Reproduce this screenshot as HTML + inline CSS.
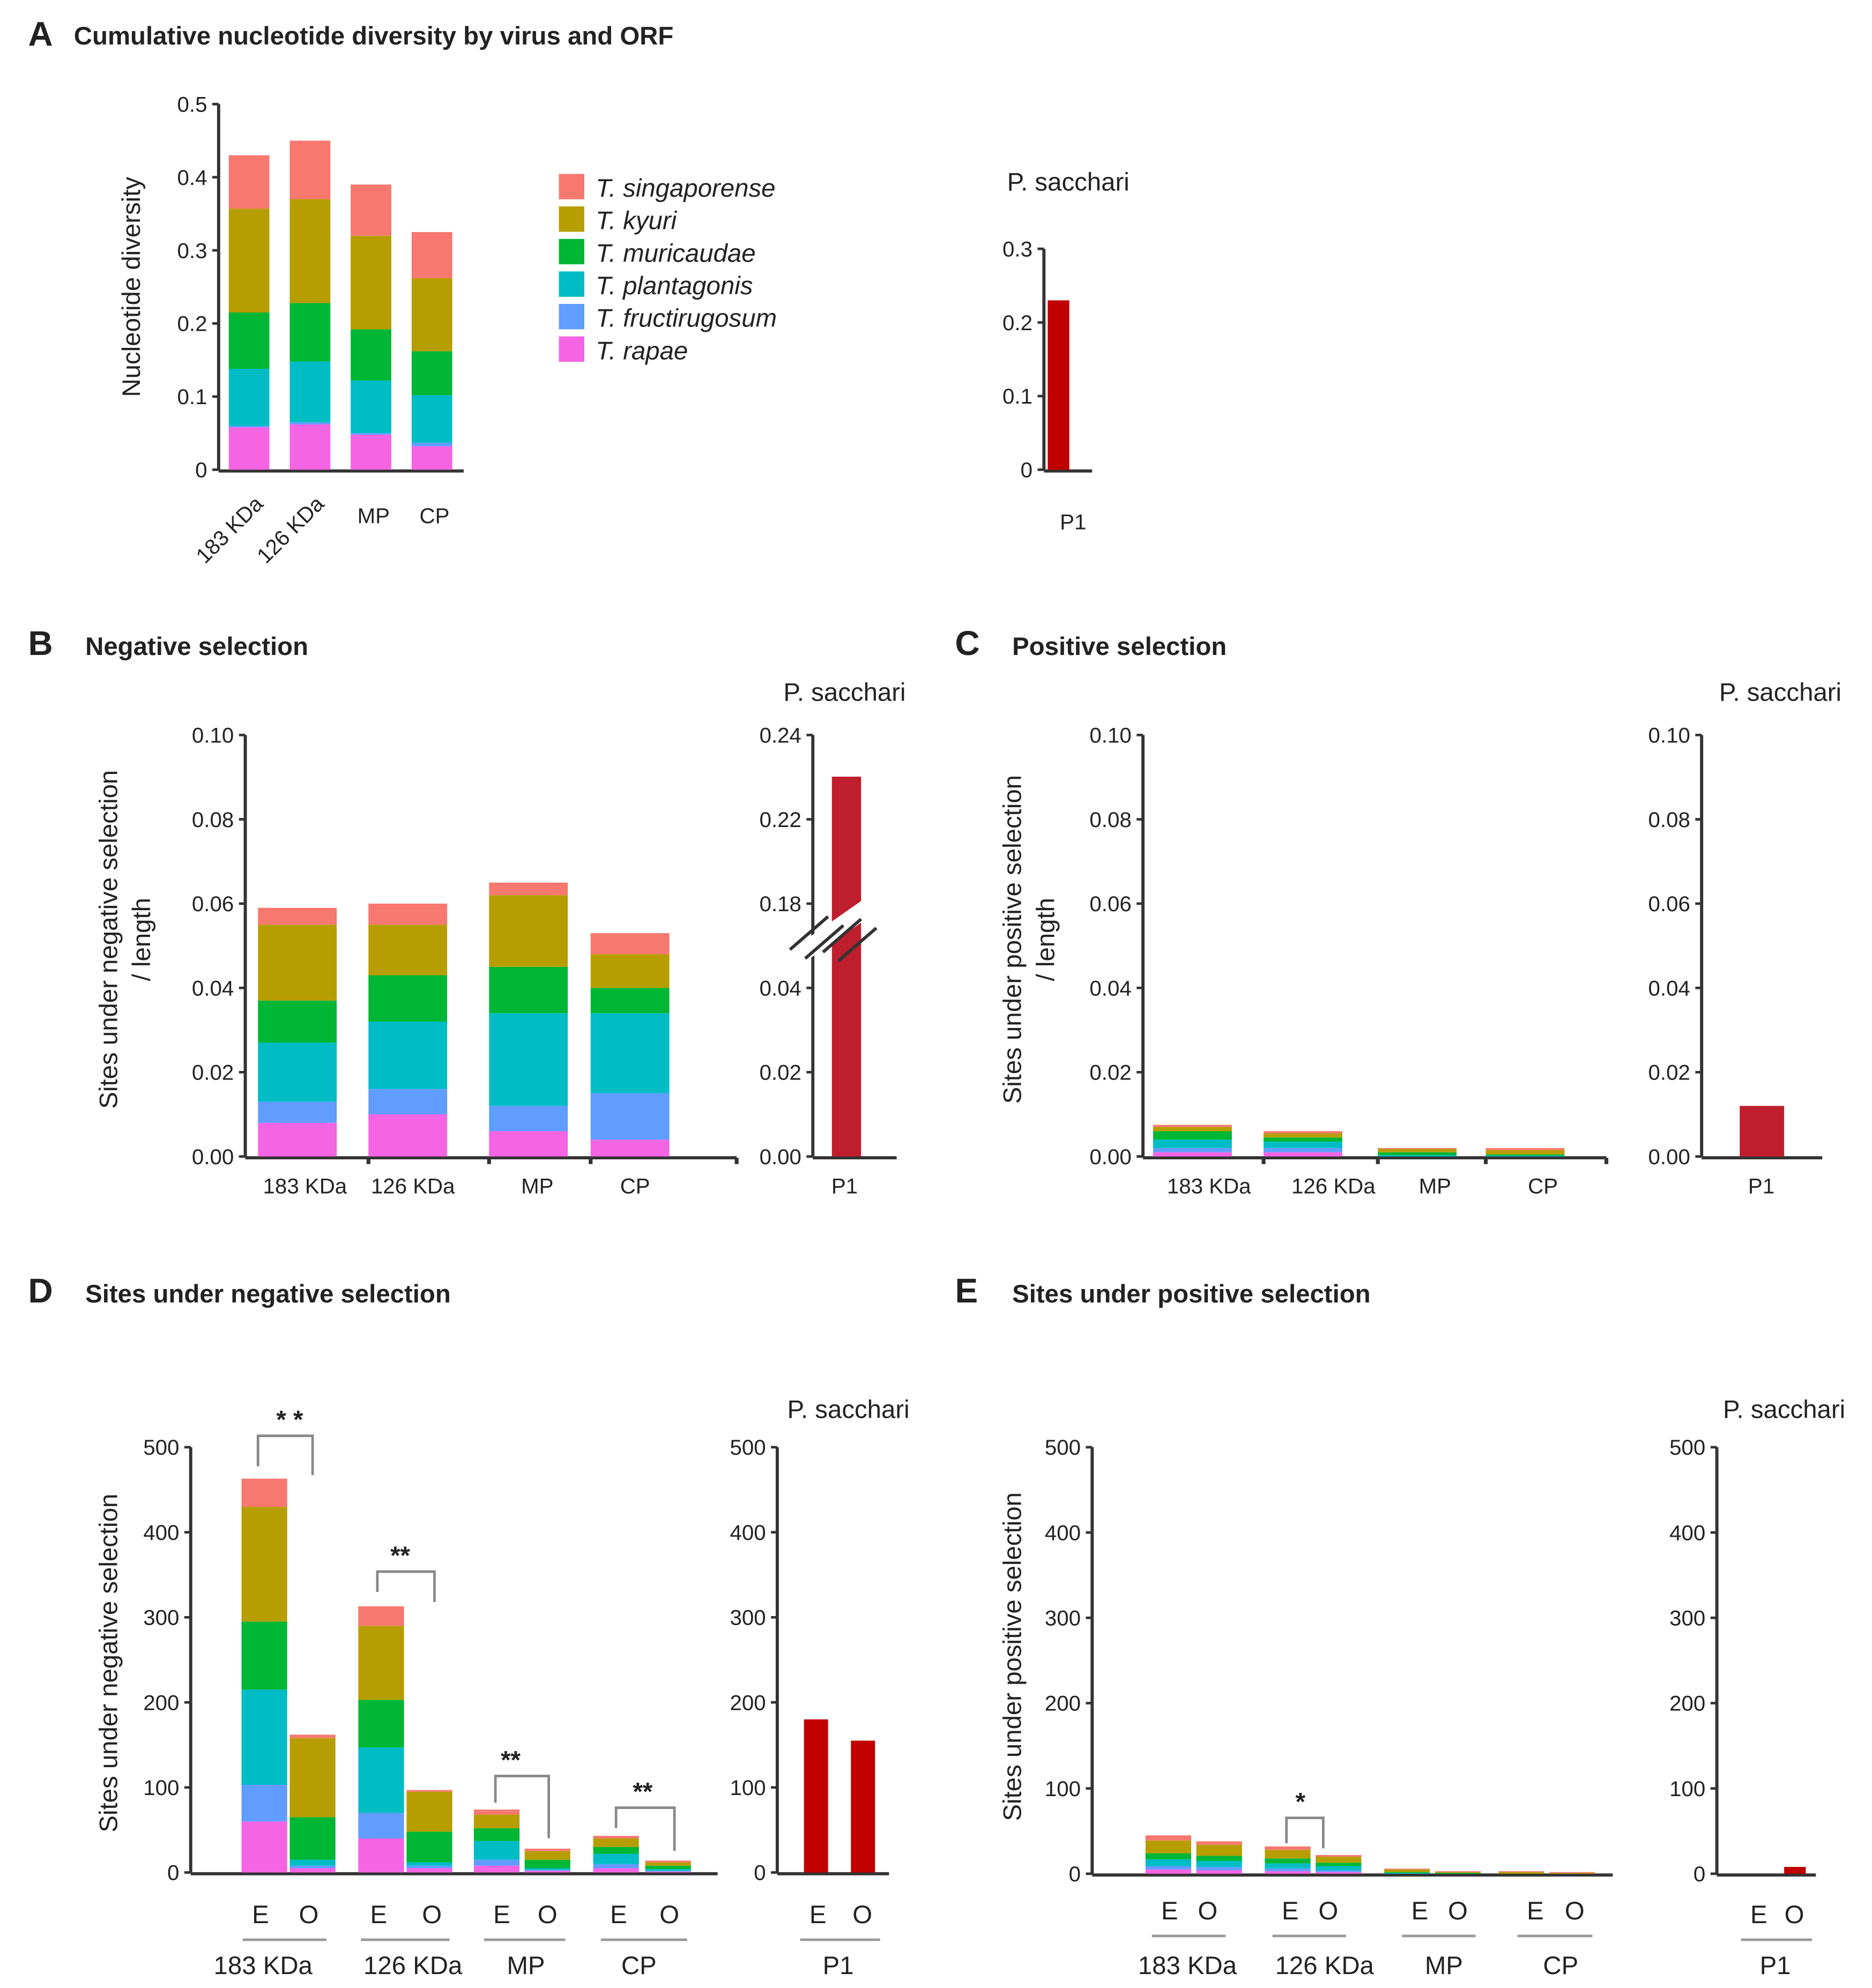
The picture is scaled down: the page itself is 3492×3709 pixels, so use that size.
<!DOCTYPE html>
<html><head><meta charset="utf-8"><style>
html,body{margin:0;padding:0;background:#fff}
svg{display:block}
text{font-family:"Liberation Sans",Arial,sans-serif;fill:#222}
</style></head><body>
<svg id="fig" xmlns="http://www.w3.org/2000/svg" width="3492" height="3709" viewBox="0 0 1474 1566"></svg>
<script>
// species order bottom->top
const species = ["T. rapae","T. fructirugosum","T. plantagonis","T. muricaudae","T. kyuri","T. singaporense"];
const colors = ["#f564e3","#619cff","#00bdc5","#00b635","#b79e00","#f7786f"];
const orfs = ["183 KDa","126 KDa","MP","CP"];
// Panel A segments
const aVals = [[.058,.002,.078,.077,.142,.073],[.062,.003,.083,.080,.142,.080],[.048,.002,.072,.070,.128,.070],[.032,.005,.065,.060,.100,.063]];
const aTicks = [0,0.1,0.2,0.3,0.4,0.5];
const aSacVal = [0.23];
const aSacTicks = [0,0.1,0.2,0.3];
// Panel B
const bVals = [[.008,.005,.014,.010,.018,.004],[.010,.006,.016,.011,.012,.005],[.006,.006,.022,.011,.017,.003],[.004,.011,.019,.006,.008,.005]];
const bcTicks = [0,0.02,0.04,0.06,0.08,0.10];
const bSacVal = [0.23];
const bSacTicks = ["0.00","0.02","0.04","0.18","0.22","0.24"];
// Panel C
const cVals = [[.001,.001,.002,.002,.001,.0005],[.001,.001,.0015,.001,.001,.0005],[0,0,.0003,.0007,.0008,.0002],[0,0,.0002,.0003,.001,.0005]];
const cSacVal = [0.012];
// Panel D (E then O per ORF)
const dVals = [[60,43,112,80,135,33],[5,3,7,50,93,4],[40,30,77,56,87,23],[5,3,4,36,47,2],[8,7,22,15,16,6],[2,1,2,10,10,3],[5,5,12,8,10,3],[1,1,2,4,4,2]];
const deTicks = [0,100,200,300,400,500];
const dSacVals = [180,155];
// Panel E
const eVals = [[5,4,8,7,15,6],[4,4,7,6,13,4],[3,3,6,6,10,4],[2,2,5,4,7,2],[0,0,1,1,3,1],[0,0,0,1,1,1],[0,0,0,0,2,1],[0,0,0,0,1,1]];
const eSacVals = [0,8];

const svg = document.getElementById('fig');
const NS = "http://www.w3.org/2000/svg";
function el(tag, attrs, parent){const e=document.createElementNS(NS,tag);for(const k in attrs)e.setAttribute(k,attrs[k]);(parent||svg).appendChild(e);return e;}
function txt(x,y,s,opts,name){const t=el('text',Object.assign({x:x,y:y,'font-size':17},opts||{}));t.textContent=s;return t;}
function lin(x1,y1,x2,y2,w,c){const l=el('line',{x1,y1,x2,y2,stroke:c||'#333','stroke-width':w||2.5});return l;}
function yAxis(x,y0,yTop,ticks,max,fmt,name){
  const g=el('g',{});
  lin(x,y0,x,yTop);
  ticks.forEach(v=>{const y=y0-(v/max)*(y0-yTop);lin(x-5,y,x,y,2);txt(x-9,y+6,fmt(v),{'text-anchor':'end'},'y-tick-label');});
  return v=>y0-(v/max)*(y0-yTop);
}
function stack(x,w,segs,sc,name){
  let cum=0;
  segs.forEach((v,i)=>{const yT=sc(cum+v),yB=sc(cum);cum+=v;if(yB-yT<=0)return;
    const r=el('rect',{x:x,y:yT,width:w,height:yB-yT,fill:colors[i]});
    
    });
}
function bar(x,w,v,sc,c,name){const r=el('rect',{x:x,y:sc(v),width:w,height:sc(0)-sc(v),fill:c});}
function title(x,y,letter,s){txt(x,y,letter,{'font-size':27,'font-weight':'bold'},'panel-letter');if(s)txt(x+45,y,s,{'font-size':20,'font-weight':'bold'},'panel-title');}
function yLabel(x,y,s){txt(x,y,s,{'font-size':20,'text-anchor':'middle',transform:`rotate(-90 ${x} ${y})`},'y-axis-title');}
const f1=v=>v===0?'0':v.toFixed(1), f2=v=>v.toFixed(2), f0=v=>String(v);

// ---------- A ----------
title(22,36,'A','');txt(58,35,'Cumulative nucleotide diversity by virus and ORF',{'font-size':20,'font-weight':'bold'},'panel-title');
let sA=yAxis(172,370,82,aTicks,0.5,f1,'a-y-axis');
lin(172,371,365,371);
yLabel(110,226,'Nucleotide diversity');
aVals.forEach((s,i)=>{const x=180+i*48;stack(x,32,s,sA,'a-bar-'+i);});
[[196,'183 KDa',1],[244,'126 KDa',1],[294,'MP',0],[342,'CP',0]].forEach(([x,s,r])=>{
  if(r)txt(x+12,398,s,{'text-anchor':'end',transform:`rotate(-45 ${x+12} 398)`},'x-tick-label');else txt(x,412,s,{'text-anchor':'middle'},'x-tick-label');});
species.slice().reverse().forEach((s,i)=>{const y=137+i*25.6;const r=el('rect',{x:440,y:y,width:20,height:20,fill:colors[5-i]});
  txt(469,y+18,s,{'font-size':20,'font-style':'italic'},'legend-entry');});
txt(793,150,'P. sacchari',{'font-size':20},'subplot-title');
let sAs=yAxis(822,370,196,aSacTicks,0.3,f1,'a-sac-y-axis');lin(822,371,860,371);
bar(825,17,aSacVal[0],sAs,'#c00000','a-sac-bar-p1');
txt(845,417,'P1',{'text-anchor':'middle'},'x-tick-label');

// ---------- B ----------
title(22,516,'B','Negative selection');
let sB=yAxis(193,911,579,bcTicks,0.10,f2,'b-y-axis');lin(193,912,580,912);
[290,385,465,580].forEach(x=>lin(x,912,x,917,3));
yLabel(92,740,'Sites under negative selection');yLabel(118,740,'/ length');
const bx=[203,290,385,465];
bVals.forEach((s,i)=>stack(bx[i],62,s,sB,'b-bar-'+i));
[240,325,423,500].forEach((x,i)=>txt(x,940,orfs[i],{'text-anchor':'middle'},'x-tick-label'));
txt(665,552,'P. sacchari',{'font-size':20,'text-anchor':'middle'},'subplot-title');
lin(640,911,640,579);
bSacTicks.forEach((s,i)=>{const y=911-i*66.4;lin(635,y,640,y,2);txt(631,y+6,s,{'text-anchor':'end'},'y-tick-label');});
lin(640,912,706,912);
const sBs=v=>v<=0.04?911-(v/0.02)*66.4:645-((v-0.22)/0.02)*66.4;
bar(655,23,bSacVal[0],sBs,'#be1e2d','b-sac-bar-p1');
const br=el('g',{});
el('rect',{x:620,y:726,width:75,height:14,fill:'#fff',transform:'rotate(-35 657 733)'},br);
[[622,748,652,722],[634,755,664,729],[648,750,678,724],[660,757,690,731]].forEach(a=>el('line',{x1:a[0],y1:a[1],x2:a[2],y2:a[3],stroke:'#333','stroke-width':2.5},br));
txt(665,940,'P1',{'text-anchor':'middle'},'x-tick-label');

// ---------- C ----------
title(752,516,'C','Positive selection');
let sC=yAxis(900,911,579,bcTicks,0.10,f2,'c-y-axis');lin(900,912,1265,912);
[995,1085,1170,1265].forEach(x=>lin(x,912,x,917,3));
yLabel(804,740,'Sites under positive selection');yLabel(830,740,'/ length');
const cx=[908,995,1085,1170];
cVals.forEach((s,i)=>stack(cx[i],62,s,sC,'c-bar-'+i));
[952,1050,1130,1215].forEach((x,i)=>txt(x,940,orfs[i],{'text-anchor':'middle'},'x-tick-label'));
txt(1402,552,'P. sacchari',{'font-size':20,'text-anchor':'middle'},'subplot-title');
let sCs=yAxis(1340,911,579,bcTicks,0.10,f2,'c-sac-y-axis');lin(1340,912,1435,912);
bar(1370,35,cSacVal[0],sCs,'#be1e2d','c-sac-bar-p1');
txt(1387,940,'P1',{'text-anchor':'middle'},'x-tick-label');

// ---------- D ----------
title(22,1026,'D','Sites under negative selection');
let sD=yAxis(150,1475,1140,deTicks,500,f0,'d-y-axis');lin(150,1476,565,1476);
yLabel(92,1310,'Sites under negative selection');
const dx=[190,228,282,320,373,413,467,508];
dVals.forEach((s,i)=>stack(dx[i],36,s,sD,'d-bar-'+i));
function bracket(x1,y1,x2,y2,ytop,lbl,lx,name){const p=el('path',{d:`M${x1} ${y1} V${ytop} H${x2} V${y2}`,fill:'none',stroke:'#888','stroke-width':2});txt(lx,ytop-6,lbl,{'font-size':20,'text-anchor':'middle','font-weight':'bold'},'significance-label');}
bracket(203,1155,246,1162,1131,'* *',228,'d-bracket-183');
bracket(297,1254,342,1262,1238,'**',315,'d-bracket-126');
bracket(390,1420,432,1448,1399,'**',402,'d-bracket-mp');
bracket(485,1440,531,1458,1424,'**',506,'d-bracket-cp');
function eoLabels(xs,y){for(let k=0;k<xs.length;k+=2){txt(xs[k],y,'E',{'font-size':20,'text-anchor':'middle'},'x-tick-label');txt(xs[k+1],y,'O',{'font-size':20,'text-anchor':'middle'},'x-tick-label');lin(xs[k]-14,y+13,xs[k+1]+14,y+13,2,'#999');}}
eoLabels([205,243,298,340,395,431,487,527],1515);
[207,325,414,503].forEach((x,i)=>txt(x,1555,orfs[i],{'font-size':20,'text-anchor':'middle'},'x-tick-label'));
txt(668,1117,'P. sacchari',{'font-size':20,'text-anchor':'middle'},'subplot-title');
let sDs=yAxis(612,1475,1140,deTicks,500,f0,'d-sac-y-axis');lin(612,1476,700,1476);
bar(633,19,dSacVals[0],sDs,'#c00000','d-sac-bar-e');bar(670,19,dSacVals[1],sDs,'#c00000','d-sac-bar-o');
eoLabels([644,679],1515);
txt(660,1555,'P1',{'font-size':20,'text-anchor':'middle'},'x-tick-label');

// ---------- E ----------
title(752,1026,'E','Sites under positive selection');
let sE=yAxis(860,1476,1140,deTicks,500,f0,'e-y-axis');lin(860,1477,1270,1477);
yLabel(804,1305,'Sites under positive selection');
const ex=[902,942,996,1036,1090,1130,1180,1220];
eVals.forEach((s,i)=>stack(ex[i],36,s,sE,'e-bar-'+i));
bracket(1013,1452,1042,1456,1432,'*',1024,'e-bracket-126');
eoLabels([921,951,1016,1046,1118,1148,1209,1240],1512);
[935,1043,1137,1229].forEach((x,i)=>txt(x,1555,orfs[i],{'font-size':20,'text-anchor':'middle'},'x-tick-label'));
txt(1405,1117,'P. sacchari',{'font-size':20,'text-anchor':'middle'},'subplot-title');
let sEs=yAxis(1352,1476,1140,deTicks,500,f0,'e-sac-y-axis');lin(1352,1477,1430,1477);
bar(1368,17,eSacVals[0],sEs,'#c00000','e-sac-bar-e');bar(1405,17,eSacVals[1],sEs,'#c00000','e-sac-bar-o');
eoLabels([1385,1413],1515);
txt(1398,1555,'P1',{'font-size':20,'text-anchor':'middle'},'x-tick-label');
</script>
</body></html>
